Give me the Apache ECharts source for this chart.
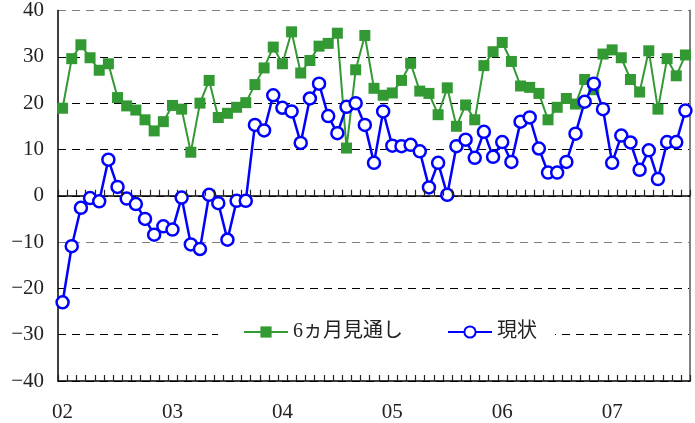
<!DOCTYPE html>
<html>
<head>
<meta charset="utf-8">
<script src="https://cdn.jsdelivr.net/npm/echarts@6/dist/echarts.min.js"></script>
<style>
  html, body { margin: 0; padding: 0; background: #fff; }
  #main { width: 695px; height: 423px; }
</style>
</head>
<body>
<div id="main"></div>
<script>
// 2002年1月 ～ 2007年9月 (月次)
var years = ['02', '03', '04', '05', '06', '07']
var lastYearMonths = 9
var yTicks = [-40, -30, -20, -10, 0, 10, 20, 30, 40]

var outlook6m = [
  18.9, 29.6, 32.6, 29.8, 27.1, 28.5, 21.2, 19.4, 18.5, 16.4, 14.0, 16.0,
  19.5, 18.7, 9.4, 20.0, 24.9, 16.9, 17.8, 19.1, 20.1, 24.0, 27.6, 32.1,
  28.5, 35.4, 26.5, 29.2, 32.3, 32.9, 35.1, 10.3, 27.2, 34.6, 23.2, 21.7,
  22.2, 24.9, 28.6, 22.6, 22.1, 17.5, 23.3, 15.0, 19.6, 16.4, 28.1, 31.1,
  33.1, 29.0, 23.7, 23.4, 22.1, 16.4, 19.1, 21.0, 19.8, 25.1, 22.9, 30.6,
  31.5, 29.8, 25.1, 22.4, 31.3, 18.7, 29.6, 25.9, 30.4
]
var current = [
  -23.0, -10.9, -2.6, -0.5, -1.2, 7.8, 1.9, -0.6, -1.8, -5.0, -8.4, -6.6,
  -7.3, -0.4, -10.5, -11.5, 0.2, -1.6, -9.5, -1.1, -1.1, 15.3, 14.1, 21.7,
  19.0, 18.2, 11.4, 21.0, 24.2, 17.2, 13.5, 19.2, 20.0, 15.3, 7.1, 18.2,
  10.8, 10.7, 11.0, 9.6, 1.8, 7.1, 0.2, 10.7, 12.1, 8.2, 13.8, 8.4,
  11.6, 7.3, 16.0, 16.9, 10.2, 5.0, 5.0, 7.3, 13.4, 20.3, 24.2, 18.7,
  7.1, 13.0, 11.5, 5.6, 9.8, 3.6, 11.6, 11.6, 18.4
]

var categories = []
years.forEach(function(y, i) {
  var n = i === years.length - 1 ? lastYearMonths : 12
  for (var m = 1; m <= n; m++) categories.push(y + '/' + m)
})

var serif = '"Liberation Serif", "Times New Roman", serif'
var chart = echarts.init(document.getElementById('main'))

// monthly tick marks on the 0 line and on the bottom line (month boundaries)
function renderTicks(params, api) {
  var idx = api.value(0)
  var band = api.size([1, 0])[0]
  var cx = api.coord([idx, 0])[0]
  var ys = [api.coord([idx, 0])[1], api.coord([idx, yTicks[0]])[1]]
  var xs = [cx - band / 2]
  if (idx === categories.length - 1) xs.push(cx + band / 2)
  var children = []
  xs.forEach(function(x) {
    ys.forEach(function(y) {
      children.push({
        type: 'line',
        shape: { x1: Math.round(x) + 0.5, y1: y, x2: Math.round(x) + 0.5, y2: y - 6 },
        style: { stroke: '#222', lineWidth: 1.2 }
      })
    })
  })
  return { type: 'group', children: children }
}

chart.setOption({
  animation: false,
  backgroundColor: '#fff',
  grid: { left: 58, right: 5, top: 9, bottom: 40, containLabel: false },
  legend: {
    left: 218,
    top: 312,
    padding: [10, 18, 10, 25],
    backgroundColor: '#fff',
    itemWidth: 44,
    itemHeight: 14,
    itemGap: 44,
    textStyle: { fontSize: 20, color: '#222', fontFamily: serif + ', "Noto Sans CJK JP"' },
    data: ['6ヵ月見通し', '現状']
  },
  xAxis: [{
    type: 'category',
    data: categories,
    position: 'bottom',
    boundaryGap: true,
    axisLine: { onZero: false, lineStyle: { color: '#000', width: 1.5 } },
    axisTick: { show: false },
    axisLabel: {
      interval: function(index) { return index % 12 === 0 },
      formatter: function(v) { return v.split('/')[0] },
      fontSize: 21,
      fontFamily: serif,
      color: '#222',
      margin: 21
    },
    splitLine: { show: false }
  }, {
    type: 'category',
    data: categories,
    position: 'top',
    boundaryGap: true,
    axisLine: { onZero: true, lineStyle: { color: '#000', width: 1.5 } },
    axisTick: { show: false },
    axisLabel: { show: false },
    splitLine: { show: false }
  }],
  yAxis: [{
    type: 'value',
    min: yTicks[0],
    max: yTicks[yTicks.length - 1],
    interval: 10,
    axisLine: { show: true, onZero: false, lineStyle: { color: '#000', width: 1.5 } },
    axisTick: { show: false },
    axisLabel: {
      formatter: function(v) { return v < 0 ? '\u2212' + Math.abs(v) : String(v) },
      fontSize: 21,
      fontFamily: serif,
      color: '#222',
      margin: 14
    },
    splitLine: {
      show: true,
      lineStyle: {
        // -40 .. 40
        color: ['#000', '#000', '#000', '#808080', '#000', '#000', '#000', '#000', '#808080'],
        width: 1.2,
        type: [8, 6]
      }
    }
  }, {
    type: 'value',
    position: 'right',
    min: yTicks[0],
    max: yTicks[yTicks.length - 1],
    interval: 10,
    axisLine: { show: true, onZero: false, lineStyle: { color: '#808080', width: 2 } },
    axisTick: { show: false },
    axisLabel: { show: false },
    splitLine: { show: false }
  }],
  series: [{
    name: 'ticks',
    type: 'custom',
    silent: true,
    clip: false,
    renderItem: renderTicks,
    data: categories.map(function(c, i) { return [i, 0] }),
    z: 10
  }, {
    name: '6ヵ月見通し',
    type: 'line',
    data: outlook6m,
    symbol: 'rect',
    symbolSize: 11,
    showAllSymbol: true,
    itemStyle: { color: '#339933' },
    lineStyle: { color: '#339933', width: 2 },
    z: 2
  }, {
    name: '現状',
    type: 'line',
    data: current,
    symbol: 'circle',
    symbolSize: 12,
    showAllSymbol: true,
    itemStyle: { color: '#fff', borderColor: '#0000ff', borderWidth: 2.5 },
    lineStyle: { color: '#0000ff', width: 2.5 },
    z: 3
  }]
})
</script>
</body>
</html>
